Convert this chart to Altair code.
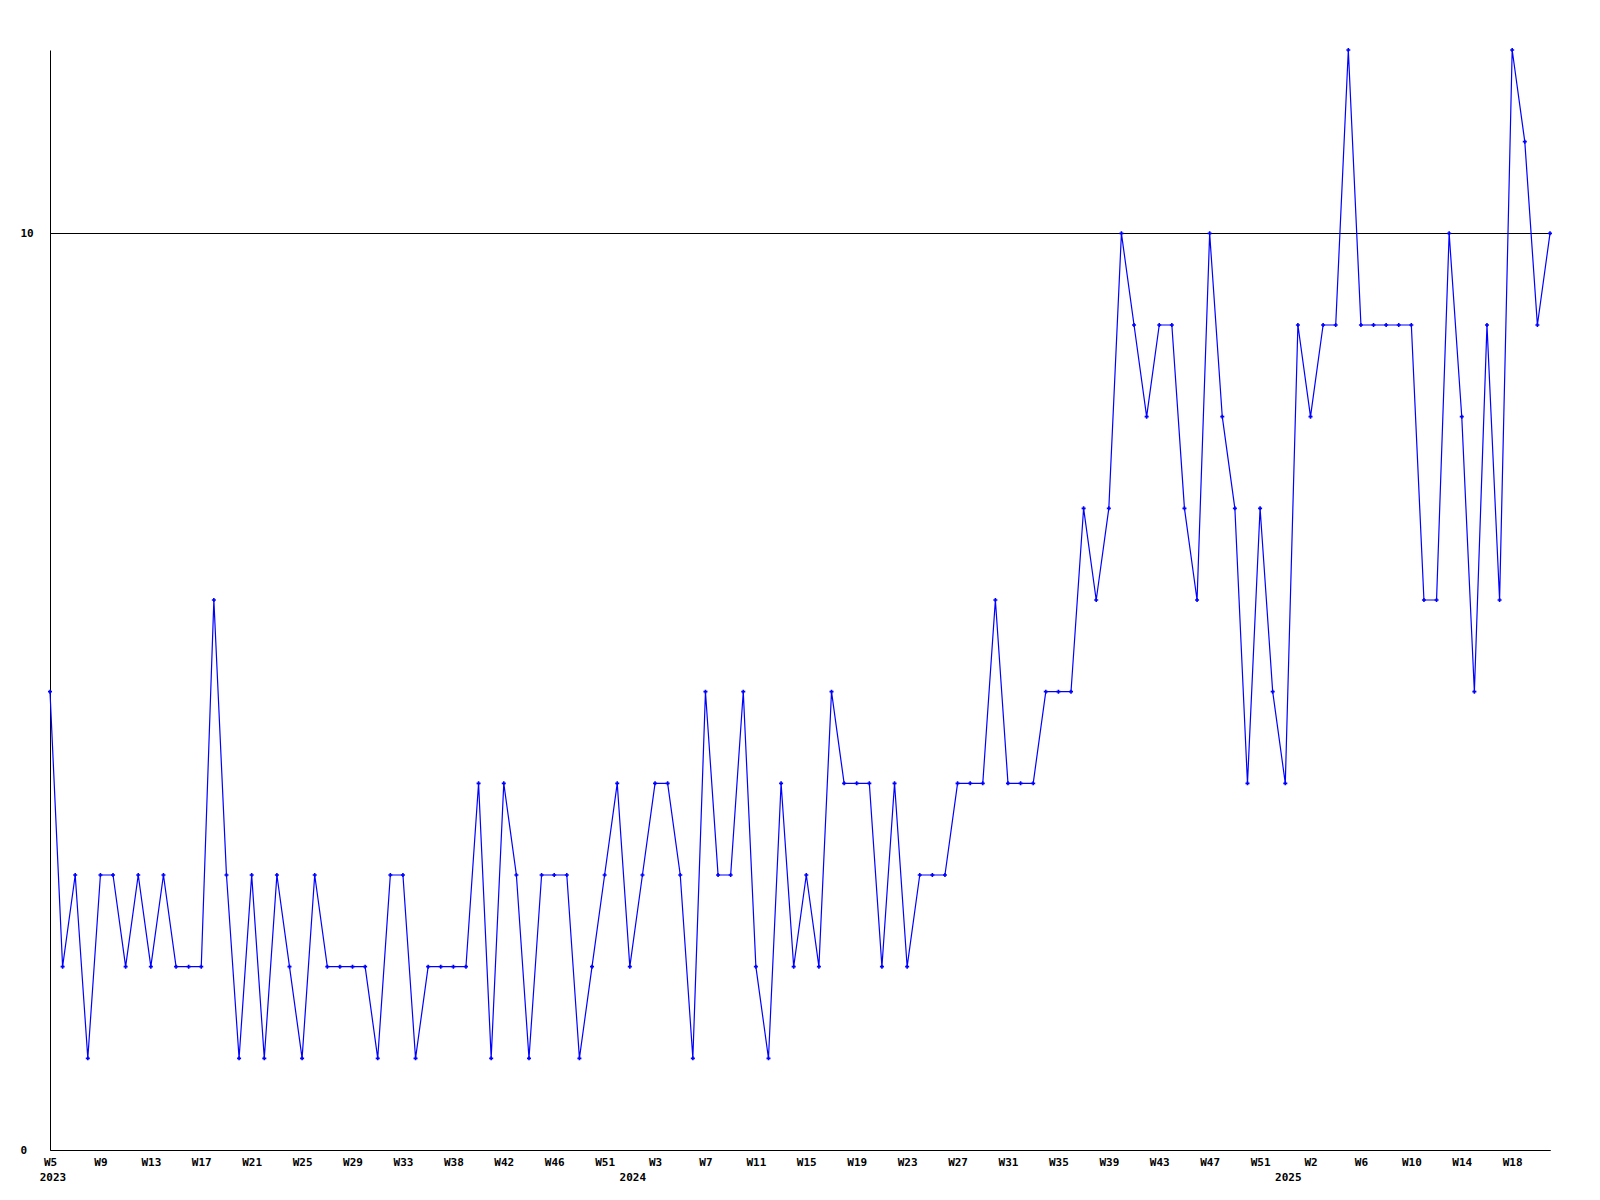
import altair as alt
import pandas as pd

values = [5, 2, 3, 1, 3, 3, 2, 3, 2, 3, 2, 2, 2, 6, 3, 1, 3, 1, 3, 2,
          1, 3, 2, 2, 2, 2, 1, 3, 3, 1, 2, 2, 2, 2, 4, 1, 4, 3, 1, 3,
          3, 3, 1, 2, 3, 4, 2, 3, 4, 4, 3, 1, 5, 3, 3, 5, 2, 1, 4, 2,
          3, 2, 5, 4, 4, 4, 2, 4, 2, 3, 3, 3, 4, 4, 4, 6, 4, 4, 4, 5,
          5, 5, 7, 6, 7, 10, 9, 8, 9, 9, 7, 6, 10, 8, 7, 4, 7, 5, 4, 9,
          8, 9, 9, 12, 9, 9, 9, 9, 9, 6, 6, 10, 8, 5, 9, 6, 12, 11, 9, 10]

week_labels = ["W5", "W9", "W13", "W17", "W21", "W25", "W29", "W33", "W38", "W42",
               "W46", "W51", "W3", "W7", "W11", "W15", "W19", "W23", "W27", "W31",
               "W35", "W39", "W43", "W47", "W51", "W2", "W6", "W10", "W14", "W18"]
label_step = 4

years = ["2023", "2024", "2025"]
year_index = [0, 46, 98]

y_ticks = [0, 10]

df = pd.DataFrame({"i": list(range(len(values))), "v": values})
ydf = pd.DataFrame({"i": year_index, "year": years})

FONT = "DejaVu Sans Mono"
label_arr = "[" + ",".join("'" + s + "'" for s in week_labels) + "]"

x_scale = alt.Scale(domain=[0, len(values) - 1], nice=False, zero=False)
y_scale = alt.Scale(domain=[0, 12], nice=False)

x_axis = alt.Axis(
    values=[k * label_step for k in range(len(week_labels))],
    labelExpr=label_arr + "[round(datum.value/" + str(label_step) + ")]",
    title=None, ticks=False, tickSize=0, grid=False, domainColor="black",
    domainWidth=1, labelFont=FONT, labelFontSize=11, labelFontWeight="bold",
    labelColor="black", labelPadding=6, labelAngle=0, labelOverlap=False,
    labelFlush=False,
)
y_axis = alt.Axis(
    values=y_ticks, format="d", title=None, ticks=False, tickSize=0, grid=True,
    gridColor="black", gridWidth=1, gridOpacity=1, domainColor="black",
    domainWidth=1, labelFont=FONT, labelFontSize=11, labelFontWeight="bold",
    labelColor="black", labelAlign="left", labelPadding=30, labelBaseline="middle",
)

line = alt.Chart(df).mark_line(color="#0000FF", strokeWidth=1.2).encode(
    x=alt.X("i:Q", scale=x_scale, axis=x_axis),
    y=alt.Y("v:Q", scale=y_scale, axis=y_axis),
)
pts = alt.Chart(df).mark_point(shape="cross", filled=True, color="#0000FF", size=16, opacity=1).encode(
    x=alt.X("i:Q", scale=x_scale),
    y=alt.Y("v:Q", scale=y_scale),
)
year_text = alt.Chart(ydf).mark_text(
    font=FONT, fontSize=11, fontWeight="bold", color="black", baseline="middle", align="center", dx=3
).encode(
    x=alt.X("i:Q", scale=x_scale),
    y=alt.value(1128),
    text="year:N",
)

chart = alt.layer(line, pts, year_text).properties(
    width=1500, height=1100,
    padding={"left": 42, "top": 42, "right": 42, "bottom": 42},
    autosize=alt.AutoSizeParams(type="none"),
).configure_view(stroke="transparent")

chart.save("out.html", embed_options={"renderer": "svg", "actions": False})
